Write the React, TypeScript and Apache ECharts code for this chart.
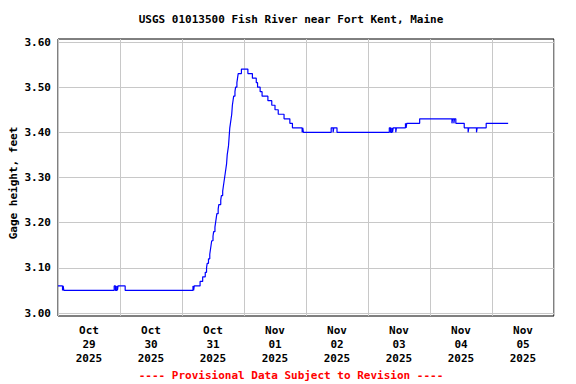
import React, { useEffect, useRef } from "react";
import * as echarts from "echarts";

const titleText = "USGS 01013500 Fish River near Fort Kent, Maine";
const yAxisName = "Gage height, feet";
const footerText = "---- Provisional Data Subject to Revision ----";

const startTime = "2025-10-29T00:00Z";
const endTime = "2025-11-06T00:00Z";

const dayLabels = [
  "Oct\n29\n2025",
  "Oct\n30\n2025",
  "Oct\n31\n2025",
  "Nov\n01\n2025",
  "Nov\n02\n2025",
  "Nov\n03\n2025",
  "Nov\n04\n2025",
  "Nov\n05\n2025",
];

const yTicks = [3.0, 3.1, 3.2, 3.3, 3.4, 3.5, 3.6];

// Times (UTC strings) at which the gage height changes, and the new value
const times = [
  "2025-10-29T00:00Z", "2025-10-29T01:45Z", "2025-10-29T02:00Z", "2025-10-29T02:15Z",
  "2025-10-29T21:45Z", "2025-10-29T22:15Z", "2025-10-29T22:45Z", "2025-10-29T23:00Z",
  "2025-10-29T23:15Z", "2025-10-30T02:00Z",
  "2025-10-31T04:15Z", "2025-10-31T04:30Z", "2025-10-31T04:45Z", "2025-10-31T07:00Z",
  "2025-10-31T08:00Z", "2025-10-31T09:00Z", "2025-10-31T09:30Z", "2025-10-31T09:45Z",
  "2025-10-31T10:15Z", "2025-10-31T10:45Z", "2025-10-31T11:00Z", "2025-10-31T11:15Z",
  "2025-10-31T11:30Z", "2025-10-31T12:00Z", "2025-10-31T12:15Z", "2025-10-31T12:45Z",
  "2025-10-31T13:00Z", "2025-10-31T13:15Z", "2025-10-31T13:30Z", "2025-10-31T14:00Z",
  "2025-10-31T14:15Z", "2025-10-31T15:00Z", "2025-10-31T15:15Z", "2025-10-31T15:45Z",
  "2025-10-31T16:00Z", "2025-10-31T16:15Z", "2025-10-31T16:30Z", "2025-10-31T16:45Z",
  "2025-10-31T17:00Z", "2025-10-31T17:15Z", "2025-10-31T17:30Z", "2025-10-31T17:45Z",
  "2025-10-31T18:00Z", "2025-10-31T18:15Z", "2025-10-31T18:30Z", "2025-10-31T18:45Z",
  "2025-10-31T19:00Z", "2025-10-31T19:15Z", "2025-10-31T19:30Z", "2025-10-31T19:45Z",
  "2025-10-31T20:00Z", "2025-10-31T20:30Z", "2025-10-31T20:45Z", "2025-10-31T21:15Z",
  "2025-10-31T21:30Z", "2025-10-31T21:45Z", "2025-10-31T23:00Z",
  "2025-11-01T01:30Z", "2025-11-01T03:15Z", "2025-11-01T04:45Z", "2025-11-01T05:15Z",
  "2025-11-01T06:15Z", "2025-11-01T07:00Z", "2025-11-01T09:15Z", "2025-11-01T10:45Z",
  "2025-11-01T12:00Z", "2025-11-01T13:15Z", "2025-11-01T15:30Z", "2025-11-01T17:45Z",
  "2025-11-01T18:45Z", "2025-11-01T22:30Z", "2025-11-01T22:45Z", "2025-11-01T23:00Z",
  "2025-11-02T09:45Z", "2025-11-02T10:30Z", "2025-11-02T10:45Z", "2025-11-02T12:00Z",
  "2025-11-03T08:15Z", "2025-11-03T08:45Z", "2025-11-03T09:15Z", "2025-11-03T09:30Z",
  "2025-11-03T09:45Z", "2025-11-03T10:45Z", "2025-11-03T11:00Z", "2025-11-03T14:30Z",
  "2025-11-03T14:45Z", "2025-11-03T15:00Z", "2025-11-03T20:00Z",
  "2025-11-04T08:30Z", "2025-11-04T08:45Z", "2025-11-04T09:15Z", "2025-11-04T09:30Z",
  "2025-11-04T10:00Z", "2025-11-04T13:15Z", "2025-11-04T14:45Z", "2025-11-04T15:00Z",
  "2025-11-04T18:00Z", "2025-11-04T18:15Z", "2025-11-04T21:45Z",
  "2025-11-05T06:15Z",
];

const heights = [
  3.06, 3.05, 3.06, 3.05,
  3.06, 3.05, 3.06, 3.05,
  3.06, 3.05,
  3.06, 3.05, 3.06, 3.07,
  3.08, 3.09, 3.10, 3.11,
  3.12, 3.13, 3.14, 3.15,
  3.16, 3.17, 3.18, 3.19,
  3.20, 3.21, 3.22, 3.23,
  3.24, 3.25, 3.26, 3.27,
  3.28, 3.29, 3.30, 3.31,
  3.32, 3.33, 3.35, 3.36,
  3.37, 3.39, 3.41, 3.42,
  3.43, 3.44, 3.46, 3.47,
  3.48, 3.49, 3.50, 3.51,
  3.52, 3.53, 3.54,
  3.53, 3.52, 3.51, 3.50,
  3.49, 3.48, 3.47, 3.46,
  3.45, 3.44, 3.43, 3.42,
  3.41, 3.40, 3.41, 3.40,
  3.41, 3.40, 3.41, 3.40,
  3.41, 3.40, 3.41, 3.40,
  3.41, 3.40, 3.41, 3.42,
  3.41, 3.42, 3.43,
  3.42, 3.43, 3.42, 3.43,
  3.42, 3.41, 3.40, 3.41,
  3.40, 3.41, 3.42,
  3.42,
];

const FONT = "'DejaVu Sans Mono', monospace";

export default function App() {
  const ref = useRef<HTMLDivElement>(null);

  useEffect(() => {
    if (!ref.current) return;
    const chart = echarts.init(ref.current, undefined, { renderer: "svg" });
    const t0 = Date.parse(startTime);
    const spanHours = (Date.parse(endTime) - t0) / 3600000;
    const data = times.map((t, i) => [(Date.parse(t) - t0) / 3600000, heights[i]]);

    const gridLine = { show: true, lineStyle: { color: "#c8c8c8", width: 1 } };

    chart.setOption({
      animation: false,
      backgroundColor: "#ffffff",
      grid: [
        {
          left: 58, top: 39, width: 496, height: 277,
          show: true, borderColor: "#000000", borderWidth: 1, backgroundColor: "transparent",
        },
        { left: 58, top: 42, width: 496, height: 271 },
      ],
      xAxis: [
        {
          gridIndex: 0, type: "value", position: "top", min: 0, max: spanHours, interval: 24,
          axisLine: { show: false }, axisTick: { show: false }, axisLabel: { show: false },
          splitLine: gridLine,
        },
        {
          gridIndex: 0, type: "category", position: "bottom", data: dayLabels, boundaryGap: true,
          axisLine: { show: false }, axisTick: { show: false }, splitLine: { show: false },
          axisLabel: {
            margin: 7, color: "#000", fontFamily: FONT, fontWeight: "bold", fontSize: 11,
            lineHeight: 14, interval: 0,
          },
        },
        {
          gridIndex: 1, type: "value", min: 0, max: spanHours, show: false,
        },
      ],
      yAxis: [
        { gridIndex: 0, type: "value", min: 0, max: 1, show: false },
        {
          gridIndex: 1, type: "value", min: yTicks[0], max: yTicks[yTicks.length - 1], interval: 0.1,
          axisLine: { show: false }, axisTick: { show: false },
          axisLabel: {
            margin: 7, color: "#000", fontFamily: FONT, fontWeight: "bold", fontSize: 11,
            formatter: (v: number) => v.toFixed(2),
          },
          splitLine: gridLine,
        },
      ],
      series: [
        {
          type: "line", xAxisIndex: 2, yAxisIndex: 1, data, step: "end",
          showSymbol: false, symbol: "none", z: 5,
          lineStyle: { color: "#0000ff", width: 1.2 },
        },
      ],
      graphic: [
        {
          type: "text", x: 291, y: 19,
          style: {
            text: titleText, textAlign: "center", textVerticalAlign: "middle",
            align: "center", verticalAlign: "middle",
            font: `bold 11px ${FONT}`, fill: "#000",
          },
        },
        {
          type: "text", x: 13, y: 183, rotation: Math.PI / 2,
          style: {
            text: yAxisName, textAlign: "center", textVerticalAlign: "middle",
            align: "center", verticalAlign: "middle",
            font: `bold 11px ${FONT}`, fill: "#000",
          },
        },
        {
          type: "text", x: 291, y: 375,
          style: {
            text: footerText, textAlign: "center", textVerticalAlign: "middle",
            align: "center", verticalAlign: "middle",
            font: `bold 11px ${FONT}`, fill: "#ff0000",
          },
        },
      ],
    });

    return () => chart.dispose();
  }, []);

  return (
    <div
      ref={ref}
      style={{ position: "absolute", left: 0, top: 0, width: 576, height: 384 }}
    />
  );
}
